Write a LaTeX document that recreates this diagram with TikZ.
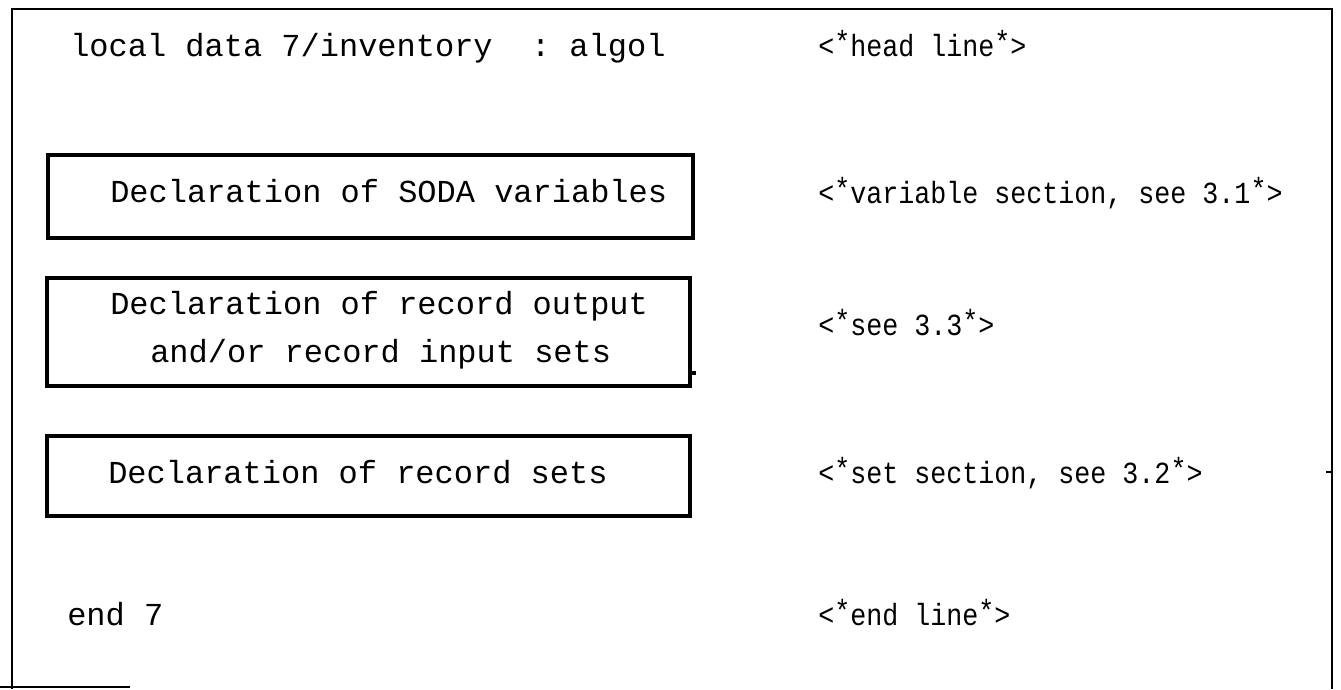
\documentclass[tikz,border=0pt]{standalone}
\usepackage{fontspec}
\setmonofont{Liberation Mono}
\newfontfamily\notefont[FakeStretch=0.87]{Liberation Mono}
% raised asterisk used in the comment brackets
\newcommand{\sstar}{\raisebox{0.12em}{*}}
\begin{document}
\begin{tikzpicture}[x=0.75pt,y=-0.75pt,
  frame/.style={line width=2pt,black},
  declbox/.style={line width=2.6pt,black},
  code/.style={anchor=base west,inner sep=0pt,font=\ttfamily\fontsize{24}{28}\selectfont},
  note/.style={anchor=base west,inner sep=0pt,font=\notefont\fontsize{23}{28}\selectfont}]
\useasboundingbox (0,0) rectangle (1341,689);
% outer frame
\draw[frame] (12,689) -- (12,9) -- (1332,9) -- (1332,689);
\draw[frame] (0,687) -- (130,687);
\draw[frame] (1326,472) -- (1332,472);
% declaration boxes
\draw[declbox] (48,155) rectangle (693,238);
\draw[declbox] (47,278) rectangle (690,386);
\draw[declbox] (690,373) -- (696,373);
\draw[declbox] (47,436) rectangle (690,516);
% left column
\node[code] (head) at (70,56) {local data 7/inventory\ \ : algol};
\node[code] (soda) at (110,202) {Declaration of SODA variables};
\node[code] (rec1) at (110,314) {Declaration of record output};
\node[code] (rec2) at (150,362) {and/or record input sets};
\node[code] (sets) at (108,483) {Declaration of record sets};
\node[code] (endl) at (67,625) {end 7};
% right column
\node[note] (nhead) at (818,56) {<\sstar head line\sstar>};
\node[note] (nvar) at (818,203) {<\sstar variable section, see 3.1\sstar>};
\node[note] (nrec) at (818,335) {<\sstar see 3.3\sstar>};
\node[note] (nset) at (818,483) {<\sstar set section, see 3.2\sstar>};
\node[note] (nend) at (818,625) {<\sstar end line\sstar>};
\end{tikzpicture}
\end{document}
